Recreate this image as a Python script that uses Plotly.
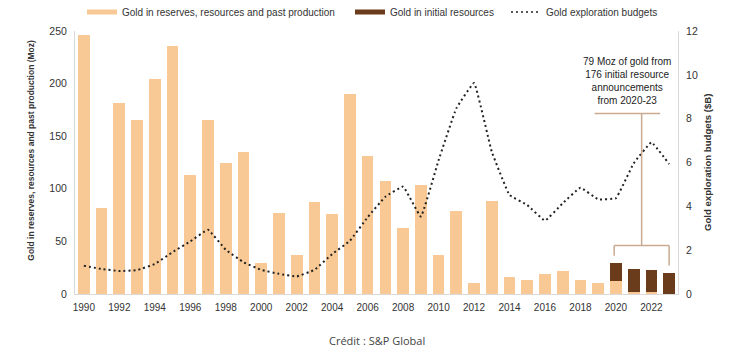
import plotly.graph_objects as go

years = list(range(1990, 2024))
reserves = [246, 82, 182, 165, 204, 236, 113, 165, 125, 135, 29, 77, 37, 87, 76,
            190, 131, 107, 63, 104, 37, 79, 10, 88, 16, 13, 19, 22, 13, 10,
            12, 2, 2, 0]
initial = [None] * 30 + [17, 22, 21, 20]
budgets = [1.29, 1.14, 1.05, 1.09, 1.37, 1.91, 2.40, 2.93, 2.02, 1.45, 1.10, 0.92,
           0.80, 1.10, 1.82, 2.43, 3.50, 4.44, 4.90, 3.53, 6.10, 8.47, 9.63, 6.49,
           4.52, 4.06, 3.35, 4.14, 4.85, 4.32, 4.37, 5.96, 6.92, 5.93]
x_ticks = list(range(1990, 2023, 2))

LIGHT = "#f8c994"
DARK = "#6b3c1c"
TAN = "#c9aa90"
TXT = "#333333"
FONT = "Liberation Sans"

W, H = 722, 347  # page has an 8px body margin

fig = go.Figure()
fig.add_trace(go.Bar(x=years, y=reserves, marker=dict(color=LIGHT, line=dict(width=0)),
                     width=0.66, showlegend=False))
fig.add_trace(go.Bar(x=years, y=initial, marker=dict(color=DARK, line=dict(width=0)),
                     width=0.66, showlegend=False))
fig.add_trace(go.Scatter(x=years, y=budgets, yaxis="y2", mode="lines",
                         line=dict(color="#222222", width=2, dash="2px,3px", shape="spline", smoothing=0.25),
                         showlegend=False))

# legend entries
fig.add_trace(go.Scatter(x=[None], y=[None], mode="lines", line=dict(color=LIGHT, width=5),
                         name="Gold in reserves, resources and past production", legend="legend"))
fig.add_trace(go.Scatter(x=[None], y=[None], mode="lines", line=dict(color=DARK, width=5),
                         name="Gold in initial resources", legend="legend2"))
fig.add_trace(go.Scatter(x=[None], y=[None], mode="lines", line=dict(color="#222222", width=1.5, dash="2px,3px"),
                         name="Gold exploration budgets", legend="legend3"))

# bracket annotation
shape_line = dict(color=TAN, width=1.5)
fig.add_shape(type="line", xref="x", yref="y2", x0=2018.8, x1=2022.5, y0=8.24, y1=8.24, line=shape_line)
fig.add_shape(type="line", xref="x", yref="y2", x0=2021.45, x1=2021.45, y0=8.24, y1=2.21, line=shape_line)
fig.add_shape(type="line", xref="x", yref="y2", x0=2019.9, x1=2023.0, y0=2.21, y1=2.21, line=shape_line)
fig.add_shape(type="line", xref="x", yref="y2", x0=2019.9, x1=2019.9, y0=2.21, y1=1.75, line=shape_line)
fig.add_shape(type="line", xref="x", yref="y2", x0=2023.0, x1=2023.0, y0=2.21, y1=1.3, line=shape_line)

fig.add_annotation(x=2020.65, y=8.5, xref="x", yref="y2", yanchor="bottom", showarrow=False,
                   text="79 Moz of gold from<br>176 initial resource<br>announcements<br>from 2020-23",
                   font=dict(family=FONT, size=10, color="#222222"), align="center")

# axis titles
fig.add_annotation(x=-0.0735, y=0.5475, xref="paper", yref="paper", showarrow=False, textangle=-90,
                   xanchor="center", yanchor="middle",
                   text="<b>Gold in reserves, resources and past production (Moz)</b>",
                   font=dict(family=FONT, size=8.5, color=TXT))
fig.add_annotation(x=1.0486, y=0.503, xref="paper", yref="paper", showarrow=False, textangle=-90,
                   xanchor="center", yanchor="middle",
                   text="<b>Gold exploration budgets ($B)</b>",
                   font=dict(family=FONT, size=9.6, color=TXT))

fig.add_annotation(x=0.5, y=-0.1787, xref="paper", yref="paper", showarrow=False, yanchor="middle",
                   text="Crédit : S&P Global", font=dict(family="Open Sans", size=11, color="#444444"))

leg_common = dict(orientation="h", xref="container", yref="container", y=1 - 4 / H,
                  xanchor="left", yanchor="middle", font=dict(size=10, color=TXT),
                  itemwidth=30, bgcolor="rgba(0,0,0,0)")

fig.update_layout(
    width=W, height=H,
    margin=dict(l=67, r=52, t=23, b=61, autoexpand=False),
    paper_bgcolor="white", plot_bgcolor="white",
    barmode="stack", bargap=0.34,
    font=dict(family=FONT, size=10, color=TXT),
    legend=dict(x=74 / W, **leg_common),
    legend2=dict(x=342 / W, **leg_common),
    legend3=dict(x=498 / W, **leg_common),
    xaxis=dict(range=[1989.5, 2023.5], tickmode="array", tickvals=x_ticks,
               ticks="", showgrid=False, zeroline=False, showline=True, linecolor="#d9d9d9",
               linewidth=1, tickfont=dict(size=10, color=TXT), ticklabelstandoff=4),
    yaxis=dict(range=[0, 250], tickvals=[0, 50, 100, 150, 200, 250], showgrid=False,
               zeroline=False, showline=True, linecolor="#d9d9d9", linewidth=1, ticks="",
               tickfont=dict(size=10.5, color=TXT), ticklabelstandoff=5),
    yaxis2=dict(range=[0, 12], overlaying="y", side="right", tickvals=[0, 2, 4, 6, 8, 10, 12],
                showgrid=False, zeroline=False, showline=True, linecolor="#d9d9d9", linewidth=1,
                ticks="", tickfont=dict(size=10.5, color=TXT), ticklabelstandoff=5),
)

fig.write_html("out.html")
